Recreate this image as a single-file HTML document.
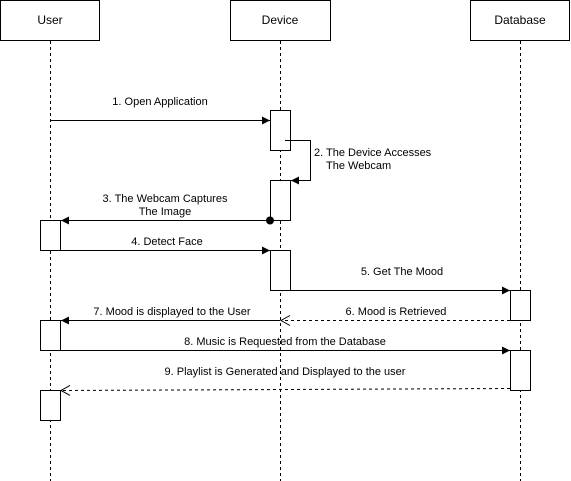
<!DOCTYPE html>
<html><head><meta charset="utf-8"><style>
html,body{margin:0;padding:0;background:#fff;}
svg{display:block;}
text{font-family:"Liberation Sans",Arial,sans-serif;font-size:11px;fill:#000;}
</style></head><body>
<svg width="571" height="481" viewBox="0 0 571 481" xmlns="http://www.w3.org/2000/svg">
<defs>
<marker id="f" markerWidth="10" markerHeight="10" refX="9" refY="5" orient="auto" markerUnits="userSpaceOnUse"><path d="M1,1 L9,5 L1,9 Z" fill="#000"/></marker>
<marker id="o" markerWidth="12" markerHeight="12" refX="10" refY="6" orient="auto" markerUnits="userSpaceOnUse"><path d="M1,1 L10,6 L1,11" fill="none" stroke="#000"/></marker>
</defs>
<g stroke="#000" fill="#fff">
<rect x="0.5" y="0.5" width="99" height="40"/>
<rect x="230.5" y="0.5" width="100" height="40"/>
<rect x="470.5" y="0.5" width="99" height="40"/>
</g>
<text x="50" y="24" text-anchor="middle" font-size="12" style="font-size:12px">User</text>
<text x="280" y="24" text-anchor="middle" style="font-size:12px">Device</text>
<text x="520" y="24" text-anchor="middle" style="font-size:12px">Database</text>
<g stroke="#000" stroke-dasharray="3,3">
<line x1="50.5" y1="41" x2="50.5" y2="481"/>
<line x1="280.5" y1="41" x2="280.5" y2="481"/>
<line x1="520.5" y1="41" x2="520.5" y2="481"/>
</g>
<g stroke="#000" fill="#fff">
<rect x="270.5" y="110.5" width="20" height="40"/>
<rect x="270.5" y="180.5" width="20" height="40"/>
<rect x="40.5" y="220.5" width="20" height="30"/>
<rect x="270.5" y="250.5" width="20" height="40"/>
<rect x="510.5" y="290.5" width="20" height="30"/>
<rect x="40.5" y="320.5" width="20" height="30"/>
<rect x="510.5" y="350.5" width="20" height="40"/>
<rect x="40.5" y="390.5" width="20" height="30"/>
</g>
<g stroke="#000" fill="none">
<line x1="50" y1="120.5" x2="270" y2="120.5" marker-end="url(#f)"/>
<polyline points="285,140.5 310.5,140.5 310.5,180.5 291,180.5" marker-end="url(#f)"/>
<line x1="270" y1="220.5" x2="61" y2="220.5" marker-end="url(#f)"/>
<line x1="60" y1="250.5" x2="270" y2="250.5" marker-end="url(#f)"/>
<line x1="290" y1="290.5" x2="510" y2="290.5" marker-end="url(#f)"/>
<line x1="510" y1="320.5" x2="281" y2="320.5" stroke-dasharray="3,3" marker-end="url(#o)"/>
<line x1="280" y1="320.5" x2="61" y2="320.5" marker-end="url(#f)"/>
<line x1="60" y1="350.5" x2="510" y2="350.5" marker-end="url(#f)"/>
<line x1="510" y1="388.5" x2="61" y2="390.5" stroke-dasharray="3,3" marker-end="url(#o)"/>
</g>
<circle cx="270" cy="220.5" r="4" fill="#000"/>
<text x="160" y="105" text-anchor="middle">1. Open Application</text>
<text x="314" y="156">2. The Device Accesses</text>
<text x="326" y="169">The Webcam</text>
<text x="165" y="202" text-anchor="middle">3. The Webcam Captures</text>
<text x="165" y="215" text-anchor="middle">The Image</text>
<text x="167" y="245" text-anchor="middle">4. Detect Face</text>
<text x="402" y="275" text-anchor="middle">5. Get The Mood</text>
<text x="396" y="315" text-anchor="middle">6. Mood is Retrieved</text>
<text x="172" y="315" text-anchor="middle">7. Mood is displayed to the User</text>
<text x="285" y="345" text-anchor="middle">8. Music is Requested from the Database</text>
<text x="285" y="375" text-anchor="middle">9. Playlist is Generated and Displayed to the user</text>
</svg>
</body></html>
